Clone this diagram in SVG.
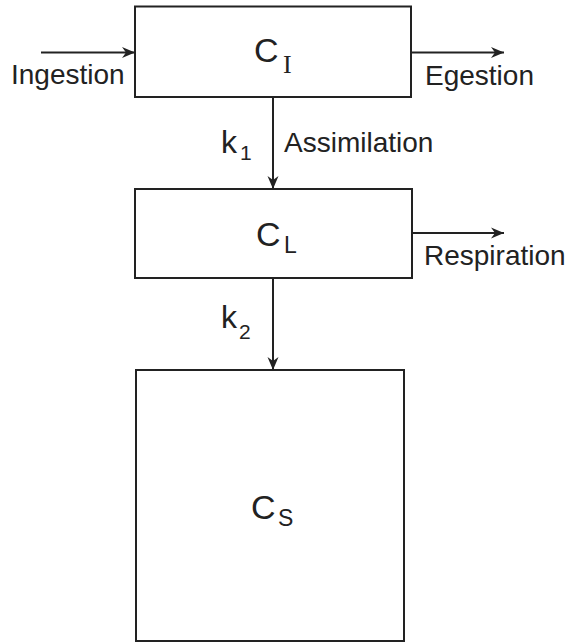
<svg xmlns="http://www.w3.org/2000/svg" width="568" height="642" viewBox="0 0 568 642">
<style>
  .box { fill: #ffffff; stroke: #222222; stroke-width: 2; }
  .line { fill: none; stroke: #222222; stroke-width: 2; }
  .lbl { font-family: "Liberation Sans", Arial, sans-serif; font-size: 28px; fill: #222222; }
  .big { font-family: "Liberation Sans", Arial, sans-serif; font-size: 34px; fill: #222222; }
  .sub { font-family: "Liberation Sans", Arial, sans-serif; font-size: 23px; fill: #222222; }
  .subserif { font-family: "Liberation Serif", "Times New Roman", serif; font-size: 26px; fill: #222222; }
  .k { font-family: "Liberation Sans", Arial, sans-serif; font-size: 32px; fill: #222222; }
  .ksub { font-family: "Liberation Sans", Arial, sans-serif; font-size: 21px; fill: #222222; }
</style>
<defs>
  <marker id="arrow" markerUnits="userSpaceOnUse" markerWidth="14" markerHeight="12" refX="13" refY="6" orient="auto">
    <path d="M0,0.5 L13,6 L0,11.5 L4,6 Z" fill="#222222"/>
  </marker>
</defs>
<rect width="568" height="642" fill="#ffffff"/>
<g id="connectors">
  <line class="line" x1="41" y1="52.5" x2="135" y2="52.5" marker-end="url(#arrow)"/>
  <line class="line" x1="411" y1="52.5" x2="504" y2="52.5" marker-end="url(#arrow)"/>
  <line class="line" x1="273" y1="97" x2="273" y2="189" marker-end="url(#arrow)"/>
  <line class="line" x1="412" y1="233" x2="504" y2="233" marker-end="url(#arrow)"/>
  <line class="line" x1="273" y1="278" x2="273" y2="370" marker-end="url(#arrow)"/>
  <text class="lbl" x="11" y="84">Ingestion</text>
  <text class="lbl" x="425" y="85">Egestion</text>
  <text class="lbl" x="284" y="152">Assimilation</text>
  <text class="lbl" x="424" y="265">Respiration</text>
  <text class="k" x="221" y="153">k</text>
  <text class="ksub" x="240" y="160">1</text>
  <text class="k" x="221" y="328">k</text>
  <text class="ksub" x="239" y="339">2</text>
</g>
<g id="node-CI">
  <rect class="box" x="135" y="6.5" width="276" height="90.5"/>
  <text class="big" x="254" y="62">C</text>
  <text class="subserif" x="283" y="73">I</text>
</g>
<g id="node-CL">
  <rect class="box" x="135" y="189" width="277" height="89"/>
  <text class="big" x="256" y="246">C</text>
  <text class="sub" x="284" y="253">L</text>
</g>
<g id="node-CS">
  <rect class="box" x="136" y="370" width="268" height="271"/>
  <text class="big" x="251" y="519">C</text>
  <text class="sub" x="278" y="526">S</text>
</g>
</svg>
